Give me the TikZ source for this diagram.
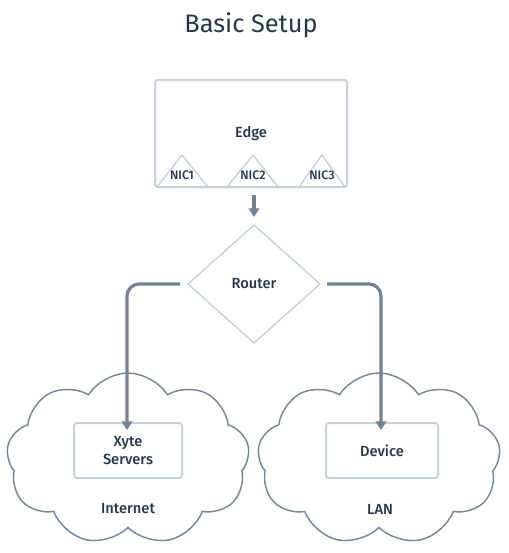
\documentclass[tikz,border=0pt]{standalone}
\usepackage{fontspec}
\setmainfont{Fira Sans}[UprightFont=* Medium]
\newfontfamily\titlefont{Fira Sans}
\usetikzlibrary{arrows.meta,shapes.geometric,shapes.symbols}
\definecolor{txt}{HTML}{27374A}
\definecolor{boxc}{HTML}{C6D1DB}
\definecolor{arr}{HTML}{738395}
\definecolor{cld}{HTML}{75879A}
\tikzset{
  lbl/.style={text=txt,font=\fontsize{11pt}{13pt}\selectfont,inner sep=0pt,align=center},
  nic/.style={text=txt,font=\fontsize{9.3pt}{10pt}\selectfont,inner sep=0pt},
  boxstyle/.style={draw=boxc,line width=1.5pt,rounded corners=2pt},
  tri/.style={draw=boxc,line width=1.1pt,line join=round},
  conn/.style={draw=arr,line width=2.4pt,rounded corners=9pt,-{Triangle[width=8pt,length=6.5pt]}},
  cloudstyle/.style={cloud,draw=cld,line width=1.1pt,cloud puffs=9,cloud puff arc=115,aspect=1.45,inner sep=0pt}
}
\begin{document}
\begin{tikzpicture}[x=0.75pt,y=-0.75pt]
\useasboundingbox (0,0) rectangle (508,553);
\node[text=txt,font=\titlefont\fontsize{19pt}{22pt}\selectfont,inner sep=0pt] (title) at (251,25) {Basic Setup};
% Edge box
\draw[boxstyle] (155,80) rectangle (347,187);
\node[lbl] (edge) at (251,134) {Edge};
\coordinate (edgebot) at (254,195);
\draw[tri] (157,187) -- (182,155) -- (208,187);
\draw[tri] (227,187) -- (253,155) -- (278,187);
\draw[tri] (299,187) -- (322,155) -- (345,187);
\node[nic] (n1) at (182,175) {NIC1};
\node[nic] (n2) at (253,175) {NIC2};
\node[nic] (n3) at (322,175) {NIC3};
% Router
\draw[boxc,line width=1.1pt,line join=round] (254,225) -- (320,284) -- (254,343) -- (188,284) -- cycle;
\node[lbl] (router) at (254,284) {Router};
\coordinate (rtop) at (254,217);
\coordinate (rl) at (180,284);
\coordinate (rr) at (327,284);
% Clouds
\node[cloudstyle,minimum width=243*0.75pt,minimum height=172*0.75pt] (c1) at (128,459) {};
\node[cloudstyle,minimum width=243*0.75pt,minimum height=172*0.75pt] (c2) at (379,459) {};
% Boxes in clouds
\node[boxstyle,fill=white,minimum width=108*0.75pt,minimum height=55*0.75pt,lbl,draw=boxc,line width=1.5pt] (xs) at (128,450.5) {Xyte\\[1pt]Servers};
\node[boxstyle,fill=white,minimum width=112*0.75pt,minimum height=55*0.75pt,lbl,draw=boxc,line width=1.5pt] (dev) at (382,450.5) {Device};
\node[lbl] (inet) at (128,509) {Internet};
\node[lbl] (lan) at (380,509) {LAN};
% Connectors
\draw[conn] (edgebot) -- (rtop);
\draw[conn] (rl) -| ([xshift=-1*0.75pt,yshift=-8*0.75pt]xs.north);
\draw[conn] (rr) -| ([xshift=-1*0.75pt,yshift=-8*0.75pt]dev.north);
\end{tikzpicture}
\end{document}
